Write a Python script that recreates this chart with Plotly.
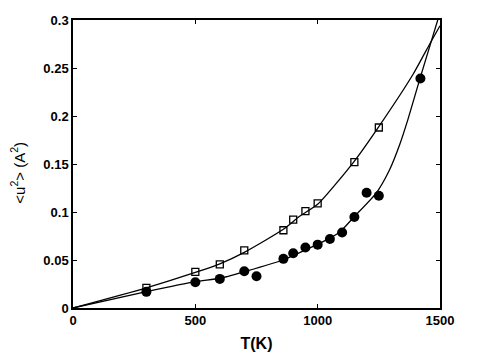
import plotly.graph_objects as go

# measured data
T_sq = [300, 500, 600, 700, 860, 900, 950, 1000, 1150, 1250]
u2_sq = [0.021, 0.0376, 0.0455, 0.060, 0.081, 0.092, 0.101, 0.109, 0.152, 0.188]

T_ci = [300, 500, 600, 700, 750, 860, 900, 950, 1000, 1050, 1100, 1150, 1200, 1250, 1420]
u2_ci = [0.0168, 0.0269, 0.0303, 0.0383, 0.0330, 0.0512, 0.0571, 0.063, 0.066, 0.0718, 0.0787, 0.0948, 0.120, 0.117, 0.239]

# fitted curves
T_fit_sq = [0, 300, 500, 600, 700, 860, 926, 1000, 1147, 1250, 1390, 1458, 1500]
u2_fit_sq = [0.0, 0.021, 0.037, 0.046, 0.058, 0.082, 0.0955, 0.108, 0.152, 0.189, 0.2435, 0.275, 0.294]

T_fit_ci = [0, 300, 500, 600, 702, 858, 1036, 1090, 1151, 1240, 1294, 1335, 1369, 1418, 1492]
u2_fit_ci = [0.0, 0.017, 0.0275, 0.031, 0.038, 0.050, 0.071, 0.079, 0.0955, 0.120, 0.144, 0.170, 0.1965, 0.239, 0.301]

x_ticks = [0, 500, 1000, 1500]
y_ticks = [0, 0.05, 0.1, 0.15, 0.2, 0.25, 0.3]
y_labels = ["0", "0.05", "0.1", "0.15", "0.2", "0.25", "0.3"]

fig = go.Figure()
fig.add_trace(go.Scatter(x=T_fit_sq, y=u2_fit_sq, mode="lines",
                         line=dict(color="black", width=1.3, shape="spline", smoothing=0.6),
                         showlegend=False))
fig.add_trace(go.Scatter(x=T_fit_ci, y=u2_fit_ci, mode="lines",
                         line=dict(color="black", width=1.3, shape="spline", smoothing=0.6),
                         showlegend=False))
fig.add_trace(go.Scatter(x=T_sq, y=u2_sq, mode="markers",
                         marker=dict(symbol="square-open", size=7, color="black", line=dict(width=1.3)),
                         showlegend=False))
fig.add_trace(go.Scatter(x=T_ci, y=u2_ci, mode="markers",
                         marker=dict(symbol="circle", size=10, color="black"),
                         showlegend=False))

font_tick = dict(family="Liberation Sans, Arial", size=13, color="black")
fig.update_layout(
    width=483, height=349,
    margin=dict(l=65, r=51, t=12, b=49, autoexpand=False),
    paper_bgcolor="white", plot_bgcolor="white",
    font=dict(family="Liberation Sans, Arial", color="black"),
    xaxis=dict(range=[0, 1500], tickvals=x_ticks, ticktext=[f"<b>{v}</b>" for v in x_ticks],
               ticks="inside", ticklen=4, tickwidth=1, tickcolor="black",
               showline=True, linecolor="black", linewidth=1.5, mirror="ticks",
               showgrid=False, zeroline=False, tickfont=font_tick, automargin=False,
               title=dict(text="<b>T(K)</b>", font=dict(size=16), standoff=10)),
    yaxis=dict(range=[0, 0.3], tickvals=y_ticks, ticktext=[f"<b>{t}</b>" for t in y_labels],
               ticks="inside", ticklen=4, tickwidth=1, tickcolor="black",
               showline=True, linecolor="black", linewidth=1.5, mirror="ticks",
               showgrid=False, zeroline=False, tickfont=font_tick, automargin=False),
    annotations=[dict(text="&lt;u<sup>2</sup>&gt; (A<sup>2</sup>)", xref="paper", yref="paper",
                      x=-55 / 367, y=0.47, xanchor="center", yanchor="middle", textangle=-90,
                      showarrow=False, font=dict(size=15, color="black"))],
)
fig.write_html("out.html")
